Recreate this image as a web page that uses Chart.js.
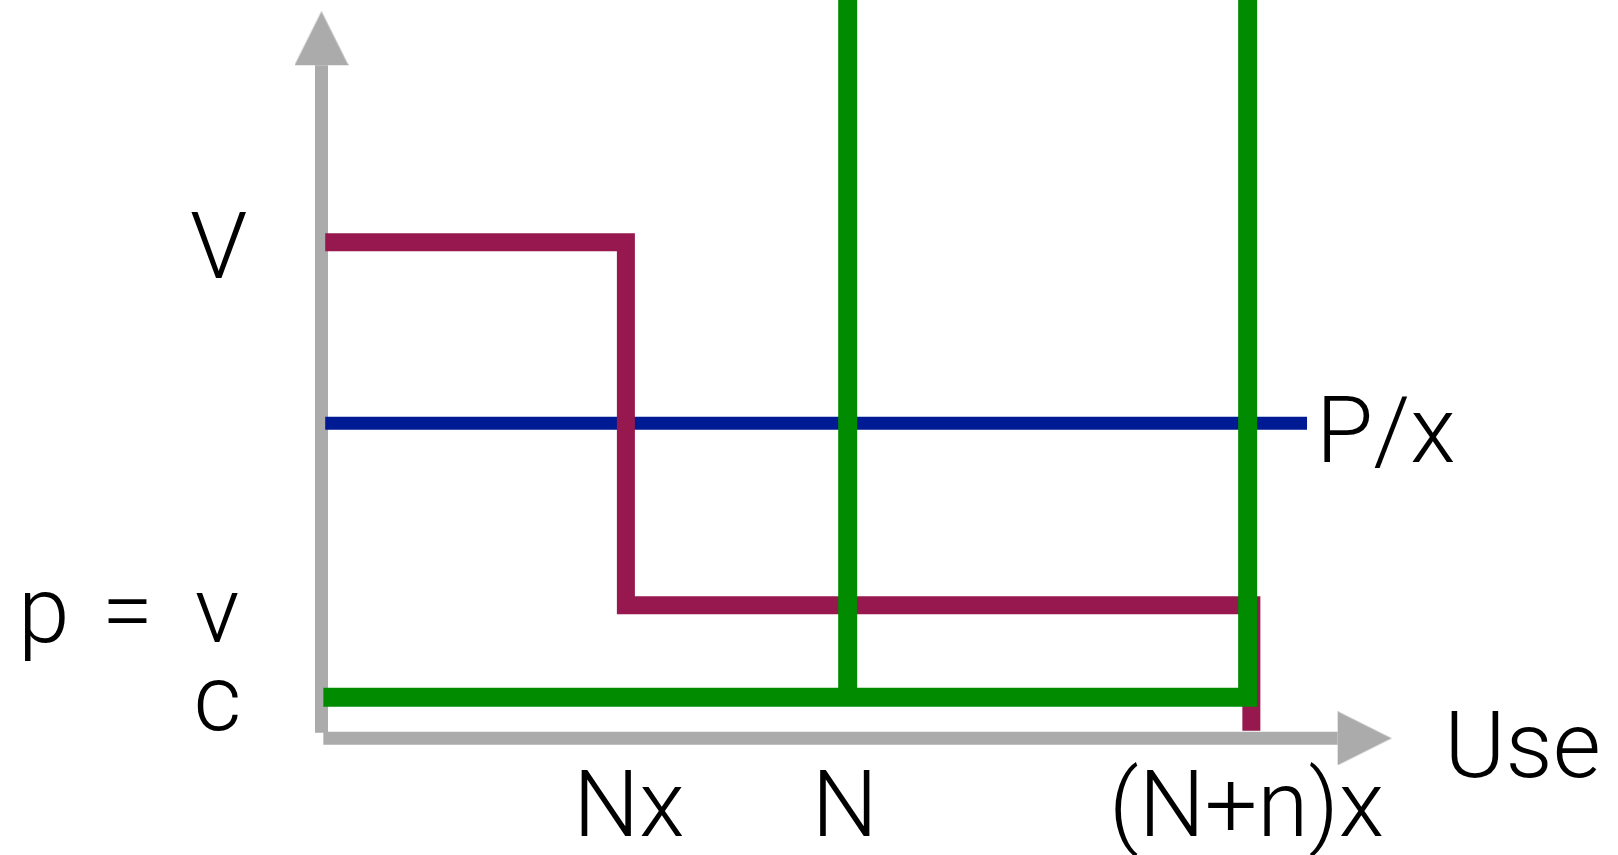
<!DOCTYPE html>
<html>
<head>
<meta charset="utf-8">
<title>Use chart</title>
<script src="https://cdn.jsdelivr.net/npm/chart.js@4.4.1/dist/chart.umd.min.js"></script>
<style>
  html, body { margin: 0; padding: 0; background: #fff; }
  #wrap { width: 1618px; height: 855px; }
</style>
</head>
<body>
<div id="wrap"><canvas id="chart" width="1618" height="855"></canvas></div>
<script>
// values (x: use, y: value)
var xTickLabels = ['Nx', 'N', '(N+n)x'];
var xTickValues = [3.28, 5.67, 10];
var yTickLabels = ['V', 'p \u200A=\u2009 v', 'c'];
var yTickValues = [10, 2.68, 0.83];

var magentaX = [0.04, 3.28, 3.28, 10.02, 10.02];
var magentaY = [10, 10, 2.68, 2.68, 0.15];
var blueX = [0.04, 10.62];
var blueY = [6.35, 6.35];
var greenX = [0.02, 9.98, 9.98];
var greenY = [0.83, 0.83, 15.2];
var greenNX = [5.67, 5.67];
var greenNY = [15.2, 0.83];

var yAxisX = [0, 0];
var yAxisY = [0.11, 13.57];
var xAxisX = [0.02, 10.95];
var xAxisY = [0, 0];

var MAGENTA = '#96184F', BLUE = '#001A93', GREEN = '#008B00', GRAY = '#ABABAB';
var FONT = '300 93px Roboto, "Liberation Sans", sans-serif';

function pts(xs, ys) {
  return xs.map(function (x, i) { return { x: x, y: ys[i] }; });
}

function line(xs, ys, color, width, order) {
  return {
    data: pts(xs, ys), borderColor: color, borderWidth: width, order: order,
    showLine: true, pointRadius: 0, tension: 0, clip: false,
    borderJoinStyle: 'miter', borderCapStyle: 'butt'
  };
}

// arrow head: tip in the top half, so the image centre sits on the base
var head = document.createElement('canvas');
head.width = 54; head.height = 108;
(function (c) {
  c.fillStyle = GRAY;
  c.beginPath(); c.moveTo(27, 0); c.lineTo(54, 54); c.lineTo(0, 54); c.closePath(); c.fill();
}(head.getContext('2d')));

// text labels tied to the values above, with small pixel offsets
var labels = [
  { text: yTickLabels[0], x: 0, y: yTickValues[0], dx: -74, dy: 36, align: 'right' },
  { text: yTickLabels[1], x: 0, y: yTickValues[1], dx: -82, dy: 36.5, align: 'right' },
  { text: yTickLabels[2], x: 0, y: yTickValues[2], dx: -80, dy: 33, align: 'right' },
  { text: xTickLabels[0], x: xTickValues[0], y: 0, dx: 3, dy: 98, align: 'center' },
  { text: xTickLabels[1], x: xTickValues[1], y: 0, dx: -3, dy: 98, align: 'center' },
  { text: xTickLabels[2], x: xTickValues[2], y: 0, dx: -3, dy: 98, align: 'center' },
  { text: 'P/x', x: blueX[1], y: blueY[1], dx: 9, dy: 39, align: 'left' },
  { text: 'Use', x: 11.55, y: 0, dx: 51, dy: 39, align: 'left' }
];

var labelPlugin = {
  id: 'labels',
  afterDatasetsDraw: function (chart) {
    var ctx = chart.ctx, sx = chart.scales.x, sy = chart.scales.y;
    ctx.save();
    ctx.font = FONT;
    ctx.fillStyle = '#000';
    ctx.textBaseline = 'alphabetic';
    labels.forEach(function (l) {
      ctx.textAlign = l.align;
      ctx.fillText(l.text, sx.getPixelForValue(l.x) + l.dx, sy.getPixelForValue(l.y) + l.dy);
    });
    ctx.restore();
  }
};

new Chart(document.getElementById('chart').getContext('2d'), {
  type: 'scatter',
  data: {
    datasets: [
      line(yAxisX, yAxisY, GRAY, 13, 5),
      line(xAxisX, xAxisY, GRAY, 13, 5),
      { data: [{ x: yAxisX[1], y: yAxisY[1] }, { x: xAxisX[1], y: xAxisY[1] }],
        pointStyle: head, pointRotation: [0, 90], pointRadius: 27, order: 5, clip: false },
      line(blueX, blueY, BLUE, 13, 4),
      line(magentaX, magentaY, MAGENTA, 18, 3),
      line(greenX, greenY, GREEN, 19, 1),
      line(greenNX, greenNY, GREEN, 19, 1)
    ]
  },
  options: {
    responsive: false, animation: false, events: [],
    layout: { autoPadding: false, padding: { left: 321.5, right: 182.9, top: 0, bottom: 116.7 } },
    plugins: { legend: { display: false }, tooltip: { enabled: false } },
    scales: {
      x: { type: 'linear', min: 0, max: 12, display: false },
      y: { type: 'linear', min: 0, max: 14.885, display: false }
    }
  },
  plugins: [labelPlugin]
});
</script>
</body>
</html>
